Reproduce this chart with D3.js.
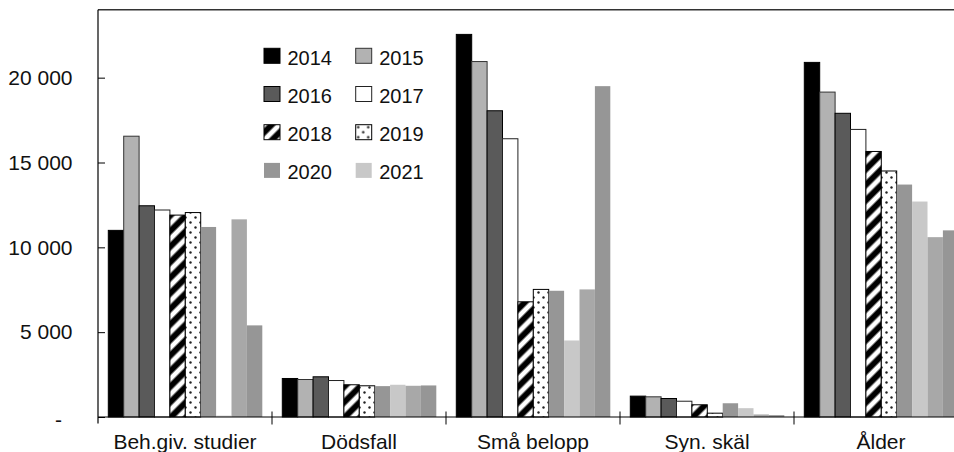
<!DOCTYPE html>
<html>
<head>
<meta charset="utf-8">
<script src="https://cdn.jsdelivr.net/npm/d3@7"></script>
<style>
  html, body { margin: 0; padding: 0; background: #fff; }
  svg { display: block; font-family: "Liberation Sans", Arial, sans-serif; }
</style>
</head>
<body>
<svg id="chart" width="954" height="452"></svg>
<script>
// Categories (reasons) and years
const categories = ["Beh.giv. studier", "Dödsfall", "Små belopp", "Syn. skäl", "Ålder"];
const years = ["2014", "2015", "2016", "2017", "2018", "2019", "2020", "2021", "2022", "2023"];
const legendYears = ["2014", "2015", "2016", "2017", "2018", "2019", "2020", "2021"];

// Values per year, in category order
const v2014 = [11000, 2270, 22550, 1230, 20900];
const v2015 = [16550, 2210, 20950, 1190, 19150];
const v2016 = [12450, 2370, 18050, 1090, 17900];
const v2017 = [12200, 2150, 16400, 930, 16950];
const v2018 = [11900, 1900, 6790, 720, 15650];
const v2019 = [12050, 1840, 7520, 225, 14500];
const v2020 = [11200, 1820, 7440, 810, 13700];
const v2021 = [80, 1900, 4510, 520, 12700];
const v2022 = [11650, 1840, 7520, 150, 10600];
const v2023 = [5400, 1860, 19500, 110, 11000];
const seriesValues = [v2014, v2015, v2016, v2017, v2018, v2019, v2020, v2021, v2022, v2023];

const yTicks = [0, 5000, 10000, 15000, 20000];

const svg = d3.select("#chart");
const defs = svg.append("defs");

// Diagonal stripe fill
const hatch = defs.append("pattern")
  .attr("id", "hatch").attr("patternUnits", "userSpaceOnUse")
  .attr("width", 11).attr("height", 11)
  .attr("patternTransform", "rotate(45)");
hatch.append("rect").attr("width", 11).attr("height", 11).attr("fill", "#fff");
hatch.append("rect").attr("x", 2).attr("width", 7).attr("height", 11).attr("fill", "#777");
hatch.append("rect").attr("x", 3).attr("width", 5).attr("height", 11).attr("fill", "#000");

// Dotted fill
const dots = defs.append("pattern")
  .attr("id", "dots").attr("patternUnits", "userSpaceOnUse")
  .attr("width", 10).attr("height", 10);
dots.append("rect").attr("width", 10).attr("height", 10).attr("fill", "#fff");
dots.append("circle").attr("cx", 2.5).attr("cy", 2.5).attr("r", 1.2).attr("fill", "#222");
dots.append("circle").attr("cx", 7.5).attr("cy", 7.5).attr("r", 1.2).attr("fill", "#222");

const styles = {
  "2014": { fill: "#000000", stroke: "#000000" },
  "2015": { fill: "#b2b2b2", stroke: "#333333" },
  "2016": { fill: "#5a5a5a", stroke: "#000000" },
  "2017": { fill: "#ffffff", stroke: "#222222" },
  "2018": { fill: "url(#hatch)", stroke: "#000000" },
  "2019": { fill: "url(#dots)", stroke: "#000000" },
  "2020": { fill: "#969696", stroke: "none" },
  "2021": { fill: "#c8c8c8", stroke: "none" },
  "2022": { fill: "#a8a8a8", stroke: "none" },
  "2023": { fill: "#969696", stroke: "none" }
};

const left = 98, baseY = 417, topY = 9.8;
const groupW = 174;
const x0 = d3.scaleBand().domain(categories).range([left, left + groupW * categories.length]).padding(0);
const x1 = d3.scaleBand().domain(years).range([10.3, 164.3]).padding(0);
const y = d3.scaleLinear().domain([0, 24000]).range([baseY, topY]);

// Bars
const groups = svg.append("g").selectAll("g")
  .data(categories).join("g")
  .attr("transform", c => `translate(${x0(c)},0)`);

groups.selectAll("rect")
  .data((c, ci) => years.map((yr, si) => ({ yr, v: seriesValues[si][ci] })))
  .join("rect")
  .attr("x", d => x1(d.yr))
  .attr("y", d => y(d.v))
  .attr("width", x1.bandwidth())
  .attr("height", d => baseY - y(d.v))
  .attr("fill", d => styles[d.yr].fill)
  .attr("stroke", d => styles[d.yr].stroke)
  .attr("stroke-width", 1);

// Frame top
svg.append("line")
  .attr("x1", left).attr("x2", 954).attr("y1", topY).attr("y2", topY)
  .attr("stroke", "#333").attr("stroke-width", 1.5);

// Y axis
const fmt = d => d === 0 ? "-" : d3.format(",")(d).replace(/,/g, " ");
const yAxis = svg.append("g")
  .attr("transform", `translate(${left},0)`)
  .call(d3.axisLeft(y).tickValues(yTicks).tickSizeInner(-7).tickSizeOuter(0)
    .tickPadding(25.5).tickFormat(fmt));
yAxis.select(".domain").remove();
yAxis.selectAll(".tick line").attr("stroke", "#000");
yAxis.selectAll(".tick text")
  .attr("font-size", 21).attr("fill", "#111")
  .attr("font-family", "Liberation Sans, Arial, sans-serif")
  .filter(d => d === 0).attr("dx", -10.5).attr("dy", "0.45em");
svg.append("line")
  .attr("x1", left).attr("x2", left).attr("y1", topY).attr("y2", 423.5)
  .attr("stroke", "#000").attr("stroke-width", 1.2);

// X axis: baseline, group separators, labels
svg.append("line")
  .attr("x1", left).attr("x2", 968).attr("y1", baseY).attr("y2", baseY)
  .attr("stroke", "#000").attr("stroke-width", 1.2);
svg.append("g").selectAll("line")
  .data(categories.slice(1)).join("line")
  .attr("x1", c => x0(c)).attr("x2", c => x0(c))
  .attr("y1", 411.5).attr("y2", 424.5)
  .attr("stroke", "#000").attr("stroke-width", 1);
svg.append("g").selectAll("text")
  .data(categories).join("text")
  .attr("x", c => x0(c) + x0.bandwidth() / 2)
  .attr("y", 449)
  .attr("text-anchor", "middle")
  .attr("font-size", 21).attr("fill", "#111")
  .text(c => c);

// Legend
const legend = svg.append("g");
const items = legend.selectAll("g")
  .data(legendYears).join("g")
  .attr("transform", (d, i) => `translate(${264 + (i % 2) * 91.7},${48.3 + Math.floor(i / 2) * 38.2})`);
items.append("rect")
  .attr("width", 16).attr("height", 15)
  .attr("fill", d => styles[d].fill)
  .attr("stroke", d => styles[d].stroke)
  .attr("stroke-width", 1);
items.append("text")
  .attr("x", 23.5).attr("y", 16.5)
  .attr("font-size", 20).attr("fill", "#111")
  .text(d => d);
</script>
</body>
</html>
